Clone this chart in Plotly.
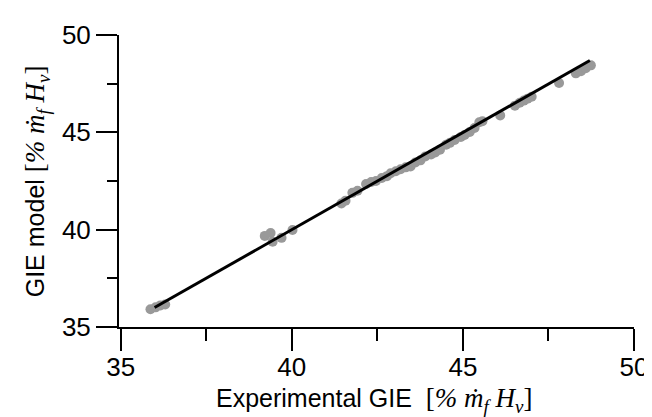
import plotly.graph_objects as go

# Experimental vs model gross indicated efficiency (GIE), % of fuel energy
gie_exp = [35.87, 36.02, 36.16, 36.30, 39.21, 39.38, 39.44, 39.70, 40.02, 41.45,
           41.57, 41.77, 41.92, 42.17, 42.32, 42.46, 42.63, 42.78, 42.89, 43.04,
           43.18, 43.33, 43.47, 43.61, 43.76, 43.90, 44.07, 44.19, 44.33, 44.51,
           44.62, 44.76, 44.94, 45.05, 45.20, 45.34, 45.48, 45.57, 46.09, 46.52,
           46.66, 46.78, 46.89, 47.01, 47.81, 48.30, 48.45, 48.59, 48.74]
gie_model = [35.91, 36.01, 36.11, 36.16, 39.68, 39.83, 39.38, 39.58, 39.98, 41.34,
             41.49, 41.89, 42.00, 42.35, 42.45, 42.50, 42.65, 42.75, 42.90, 43.00,
             43.10, 43.20, 43.25, 43.45, 43.56, 43.76, 43.86, 43.96, 44.11, 44.36,
             44.46, 44.61, 44.76, 44.86, 45.02, 45.22, 45.52, 45.57, 45.87, 46.37,
             46.52, 46.63, 46.73, 46.83, 47.53, 48.03, 48.14, 48.29, 48.44]

# fit line endpoints
fit_x = [35.99, 48.71]
fit_y = [36.00, 48.69]

tick_vals = [35, 40, 45, 50]
tick_text = ["35", "40", "45", "50"]

SANS = "Liberation Sans, Arial, sans-serif"

unit = ("<span style=\"font-family:'Liberation Serif';font-size:27px\">[<i>% ṁ<sub>f</sub> "
        "H<sub>v</sub></i>]</span>")

W, H = 652, 417
L, R, T, B = 111, 18, 21, 98
PW, PH = W - L - R, H - T - B

fig = go.Figure()
fig.add_trace(go.Scatter(
    x=gie_exp, y=gie_model, mode="markers",
    marker=dict(color="#999999", size=10, line=dict(width=0)),
    showlegend=False, cliponaxis=False))
fig.add_trace(go.Scatter(
    x=fit_x, y=fit_y, mode="lines",
    line=dict(color="black", width=3),
    showlegend=False, cliponaxis=False))

axis_common = dict(
    showgrid=False, zeroline=False,
    showline=True, linecolor="black", linewidth=2,
    ticks="outside", tickwidth=2, tickcolor="black",
    tickvals=tick_vals, ticktext=tick_text,
    tickfont=dict(size=26, family=SANS, color="black"),
    ticklabeloverflow="allow",
)

fig.update_layout(
    width=W, height=H,
    margin=dict(l=L, r=R, t=T, b=B),
    paper_bgcolor="white", plot_bgcolor="white",
    font=dict(family=SANS, color="black"),
    xaxis=dict(
        range=[34.95, 50], ticklen=22, ticklabelstandoff=-6,
        minor=dict(dtick=2.5, tick0=35, ticks="outside", ticklen=12,
                   tickwidth=2, tickcolor="black", showgrid=False),
        **axis_common,
    ),
    yaxis=dict(
        range=[35, 50], ticklen=21,
        minor=dict(dtick=2.5, tick0=35, ticks="outside", ticklen=10,
                   tickwidth=2, tickcolor="black", showgrid=False),
        **axis_common,
    ),
    annotations=[
        dict(text="Experimental GIE  " + unit,
             xref="paper", yref="paper",
             x=(370 - L) / PW, y=-(412 - (T + PH)) / PH,
             xanchor="center", yanchor="bottom", showarrow=False,
             borderpad=0,
             font=dict(size=25, family=SANS, color="black")),
        dict(text="GIE model " + unit, textangle=-90,
             xref="paper", yref="paper",
             x=(28 - L) / PW, y=1 - (170 - T) / PH,
             xanchor="center", yanchor="middle", showarrow=False,
             borderpad=0,
             font=dict(size=25, family=SANS, color="black")),
    ],
)

fig.write_html("out.html")
